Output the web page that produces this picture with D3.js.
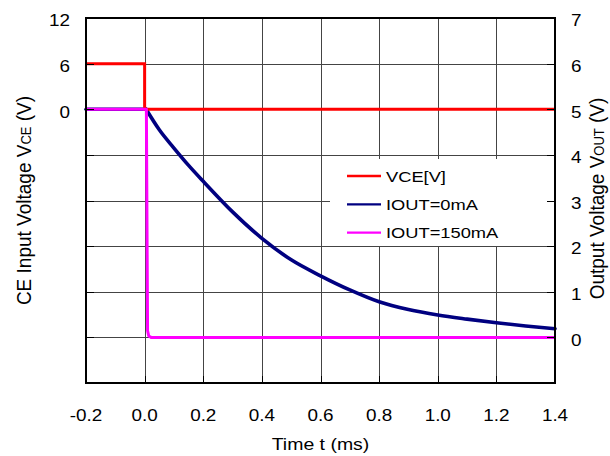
<!DOCTYPE html>
<html><head><meta charset="utf-8">
<script src="https://cdn.jsdelivr.net/npm/d3@7"></script>
<style>
body{margin:0;background:#fff;}
text{font-family:"Liberation Sans",Arial,sans-serif;fill:#000;}
</style></head>
<body><svg id="c" width="610" height="456"></svg>
<script>
// ---- data ----
const xTicks = [-0.2, 0.0, 0.2, 0.4, 0.6, 0.8, 1.0, 1.2, 1.4];
const xTickLabels = ["-0.2","0.0","0.2","0.4","0.6","0.8","1.0","1.2","1.4"];
const leftGrid = [12, 6, 0, -6, -12, -18, -24, -30, -36];
const leftTickLabels = [12, 6, 0];
const rightTickLabels = [7, 6, 5, 4, 3, 2, 1, 0];

const vceTime = [-0.2, 0.0, 0.0, 1.4];
const vceValues = [6, 6, 0, 0];

const iout0Time = [-0.2, 0.005, 0.05, 0.1, 0.15, 0.2, 0.3, 0.4, 0.5, 0.6, 0.7, 0.8, 0.9, 1.0, 1.1, 1.2, 1.3, 1.4];
const iout0Values = [5, 5, 4.55, 4.15, 3.77, 3.42, 2.75, 2.17, 1.70, 1.35, 1.04, 0.78, 0.61, 0.49, 0.40, 0.32, 0.25, 0.19];

const iout150Time = [-0.2, 0.006, 0.010, 0.014, 0.022, 1.4];
const iout150Values = [5, 5, 0.15, 0.03, 0, 0];

const seriesNames = ["VCE[V]", "IOUT=0mA", "IOUT=150mA"];
const seriesColors = ["#ff0000", "#000080", "#ff00ff"];

// ---- layout ----
const L = 86, R = 555, T = 18, B = 383;
const SX = 1.18;
const svg = d3.select("#c");
const x = d3.scaleLinear().domain([-0.2, 1.4]).range([L, R]);
const yL = d3.scaleLinear().domain([-36, 12]).range([B, T]);
const yR = d3.scaleLinear().domain([-1, 7]).range([B, T]);

function stext(g, px, py, str, size, anchor, rot) {
  return g.append("text")
    .attr("transform", `translate(${px},${py}) scale(${SX},1)` + (rot ? ` rotate(${rot})` : ""))
    .attr("text-anchor", anchor)
    .style("font-size", size + "px")
    .text(str);
}

// gridlines
const grid = svg.append("g").attr("stroke", "#444").attr("stroke-width", 1).attr("shape-rendering", "crispEdges");
xTicks.slice(1, -1).forEach(v => {
  grid.append("line").attr("x1", Math.round(x(v)) + 0.5).attr("x2", Math.round(x(v)) + 0.5).attr("y1", T).attr("y2", B);
});
leftGrid.slice(1, -1).forEach(v => {
  grid.append("line").attr("y1", Math.round(yL(v)) + 0.5).attr("y2", Math.round(yL(v)) + 0.5).attr("x1", L).attr("x2", R);
});

// legend background
svg.append("rect").attr("x", 330).attr("y", 159).attr("width", 222).attr("height", 87).attr("fill", "#fff");

// series
const lineL = d3.line().x(d => x(d[0])).y(d => yL(d[1]));
const lineRsmooth = d3.line().x(d => x(d[0])).y(d => yR(d[1])).curve(d3.curveMonotoneX);
const lineRlin = d3.line().x(d => x(d[0])).y(d => yR(d[1]));

const iout0 = d3.zip(iout0Time, iout0Values);
const iout0Style = p => p.attr("fill", "none").attr("stroke", seriesColors[1]).attr("stroke-width", 3.6)
  .attr("stroke-linejoin", "round").attr("stroke-linecap", "round");
// flat part before the switch-off, then the smooth decay
svg.append("path").datum(iout0.slice(0, 2)).attr("d", lineRlin).call(iout0Style);
svg.append("path").datum(iout0.slice(1)).attr("d", lineRsmooth).call(iout0Style);

svg.append("path").datum(d3.zip(vceTime, vceValues)).attr("d", lineL)
  .attr("fill", "none").attr("stroke", seriesColors[0]).attr("stroke-width", 3);
svg.append("path").datum(d3.zip(iout150Time, iout150Values)).attr("d", lineRlin)
  .attr("fill", "none").attr("stroke", seriesColors[2]).attr("stroke-width", 3).attr("stroke-linejoin", "round");

// frame & inner ticks
const fr = svg.append("g").attr("stroke", "#000").attr("shape-rendering", "crispEdges");
fr.append("rect").attr("x", L).attr("y", T).attr("width", R - L).attr("height", B - T)
  .attr("fill", "none").attr("stroke-width", 1.5);
leftGrid.forEach(v => {
  const yy = Math.round(yL(v)) + 0.5;
  fr.append("line").attr("x1", L).attr("x2", L + 8).attr("y1", yy).attr("y2", yy);
  fr.append("line").attr("x1", R - 8).attr("x2", R).attr("y1", yy).attr("y2", yy);
});
xTicks.forEach(v => {
  const xx = Math.round(x(v)) + 0.5;
  fr.append("line").attr("x1", xx).attr("x2", xx).attr("y1", B - 7).attr("y2", B);
});

// tick labels
const lab = svg.append("g");
xTicks.forEach((v, i) => stext(lab, x(v), 420.5, xTickLabels[i], 16, "middle"));
leftTickLabels.forEach(v => stext(lab, 70, yL(v) + 8.3, String(v), 16, "end"));
rightTickLabels.forEach(v => stext(lab, 571, yR(v) + 8.3, String(v), 16, "start"));

// axis titles
stext(lab, (L + R) / 2, 450, "Time t (ms)", 16.5, "middle");

const lt = lab.append("text")
  .attr("transform", `translate(31,${(T + B) / 2}) scale(1.1,1) rotate(-90)`)
  .attr("text-anchor", "middle").style("font-size", "19px");
lt.append("tspan").text("CE Input Voltage V");
lt.append("tspan").style("font-size", "13px").text("CE");
lt.append("tspan").text(" (V)");

const rt = lab.append("text")
  .attr("transform", `translate(603.5,${(T + B) / 2 - 2}) scale(1.1,1) rotate(-90)`)
  .attr("text-anchor", "middle").style("font-size", "19px");
rt.append("tspan").text("Output Voltage V");
rt.append("tspan").style("font-size", "13px").text("OUT");
rt.append("tspan").text(" (V)");

// legend
const legY = [176, 204.3, 232.7];
const leg = svg.append("g");
seriesNames.forEach((n, i) => {
  leg.append("line").attr("x1", 347).attr("x2", 381).attr("y1", legY[i]).attr("y2", legY[i])
    .attr("stroke", seriesColors[i]).attr("stroke-width", 2.3);
  stext(leg, 386, legY[i] + 5.5, n, 15.5, "start");
});
</script></body></html>
